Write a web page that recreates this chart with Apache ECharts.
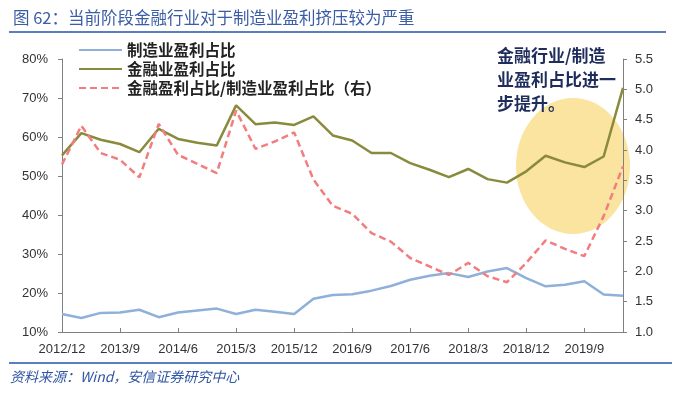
<!DOCTYPE html>
<html><head><meta charset="utf-8">
<script src="https://cdn.jsdelivr.net/npm/echarts@6/dist/echarts.min.js"></script>
<style>html,body{margin:0;padding:0;background:#fff}#c{width:700px;height:397px}</style>
</head><body><div id="c"></div>
<script>
const categories = ['2012/12','2013/3','2013/6','2013/9','2013/12','2014/3','2014/6','2014/9','2014/12','2015/3','2015/6','2015/9','2015/12','2016/3','2016/6','2016/9','2016/12','2017/3','2017/6','2017/9','2017/12','2018/3','2018/6','2018/9','2018/12','2019/3','2019/6','2019/9','2019/12','2020/3'];
const manufacturingShare = [14.6,13.6,14.9,15.0,15.7,13.8,15.0,15.5,16.0,14.6,15.7,15.2,14.6,18.5,19.5,19.7,20.6,21.8,23.4,24.4,25.1,24.1,25.5,26.4,23.8,21.7,22.1,23.0,19.6,19.3];
const financeShare = [55.3,61.0,59.3,58.2,56.1,62.1,59.5,58.5,57.8,68.1,63.3,63.7,63.1,65.3,60.4,59.1,55.9,55.9,53.3,51.6,49.7,51.8,49.2,48.3,51.2,55.2,53.5,52.3,55.0,72.6];
const ratio = [3.76,4.40,3.95,3.84,3.55,4.43,3.92,3.77,3.62,4.65,4.02,4.14,4.29,3.51,3.08,2.95,2.63,2.49,2.22,2.08,1.94,2.14,1.92,1.82,2.14,2.51,2.37,2.25,2.91,3.73];
const seriesNames = ['制造业盈利占比','金融业盈利占比','金融盈利占比/制造业盈利占比（右）'];
const titleText = '图 62：当前阶段金融行业对于制造业盈利挤压较为严重';
const sourceText = '资料来源：Wind，安信证券研究中心';
const noteText = '金融行业/制造\n业盈利占比进一\n步提升。';

const chart = echarts.init(document.getElementById('c'), null, {renderer:'canvas'});
const axisColor = '#808080';
const labelFont = {fontSize:13, color:'#333', fontFamily:'Liberation Sans, Arial, sans-serif'};
chart.setOption({
  animation:false,
  backgroundColor:'#fff',
  title:{text:titleText,left:8,top:4,textStyle:{fontSize:16.5,fontWeight:'normal',color:'#3a5da5',fontFamily:'Noto Sans CJK SC'}},
  legend:{
    orient:'vertical',left:73,top:37,itemWidth:43,itemHeight:14,itemGap:3,
    data:seriesNames,
    itemStyle:{opacity:0},
    textStyle:{fontSize:15.5,fontWeight:'bold',color:'#222',fontFamily:'Noto Sans CJK SC',lineHeight:16}
  },
  grid:{left:62,right:77,top:59,bottom:65},
  xAxis:{
    type:'category',data:categories,boundaryGap:false,
    axisLine:{lineStyle:{color:axisColor,width:1}},
    axisTick:{inside:true,length:4,interval:2,lineStyle:{color:axisColor}},
    axisLabel:Object.assign({interval:2,margin:11},labelFont),
    splitLine:{show:false}
  },
  yAxis:[
    {type:'value',min:10,max:80,interval:10,
     axisLine:{show:true,lineStyle:{color:axisColor}},
     axisTick:{show:true,length:4,lineStyle:{color:axisColor}},
     axisLabel:Object.assign({formatter:'{value}%',margin:14},labelFont),
     splitLine:{show:false}},
    {type:'value',min:1,max:5.5,interval:0.5,position:'right',
     axisLine:{show:true,lineStyle:{color:axisColor}},
     axisTick:{show:true,length:4,lineStyle:{color:axisColor}},
     axisLabel:Object.assign({formatter:v=>v.toFixed(1),margin:12},labelFont),
     splitLine:{show:false}}
  ],
  graphic:[
    {type:'ellipse',z:0,shape:{cx:573,cy:166,rx:57,ry:68},style:{fill:'#fbe3a0'}},
    {type:'line',shape:{x1:9,y1:32,x2:666,y2:32},style:{stroke:'#5b7ec0',lineWidth:2}},
    {type:'line',shape:{x1:9,y1:363,x2:672,y2:363},style:{stroke:'#5b7ec0',lineWidth:2}},
    {type:'text',left:497,top:44,style:{text:noteText,font:'bold 17px "Noto Sans CJK SC"',fill:'#1f2d5c',lineHeight:24}},
    {type:'text',left:10,top:370,style:{text:sourceText,font:'italic 14px "Noto Sans CJK SC"',fill:'#2f55a4'}}
  ],
  series:[
    {name:seriesNames[0],type:'line',data:manufacturingShare,yAxisIndex:0,symbol:'none',z:3,
     lineStyle:{color:'#8fb0d8',width:2.5},itemStyle:{color:'#8fb0d8'}},
    {name:seriesNames[1],type:'line',data:financeShare,yAxisIndex:0,symbol:'none',z:3,
     lineStyle:{color:'#8a8a3c',width:2.5},itemStyle:{color:'#8a8a3c'}},
    {name:seriesNames[2],type:'line',data:ratio,yAxisIndex:1,symbol:'none',z:4,
     lineStyle:{color:'#f27d7f',width:2.5,type:[7,4]},itemStyle:{color:'#f27d7f'}}
  ]
});
</script></body></html>
